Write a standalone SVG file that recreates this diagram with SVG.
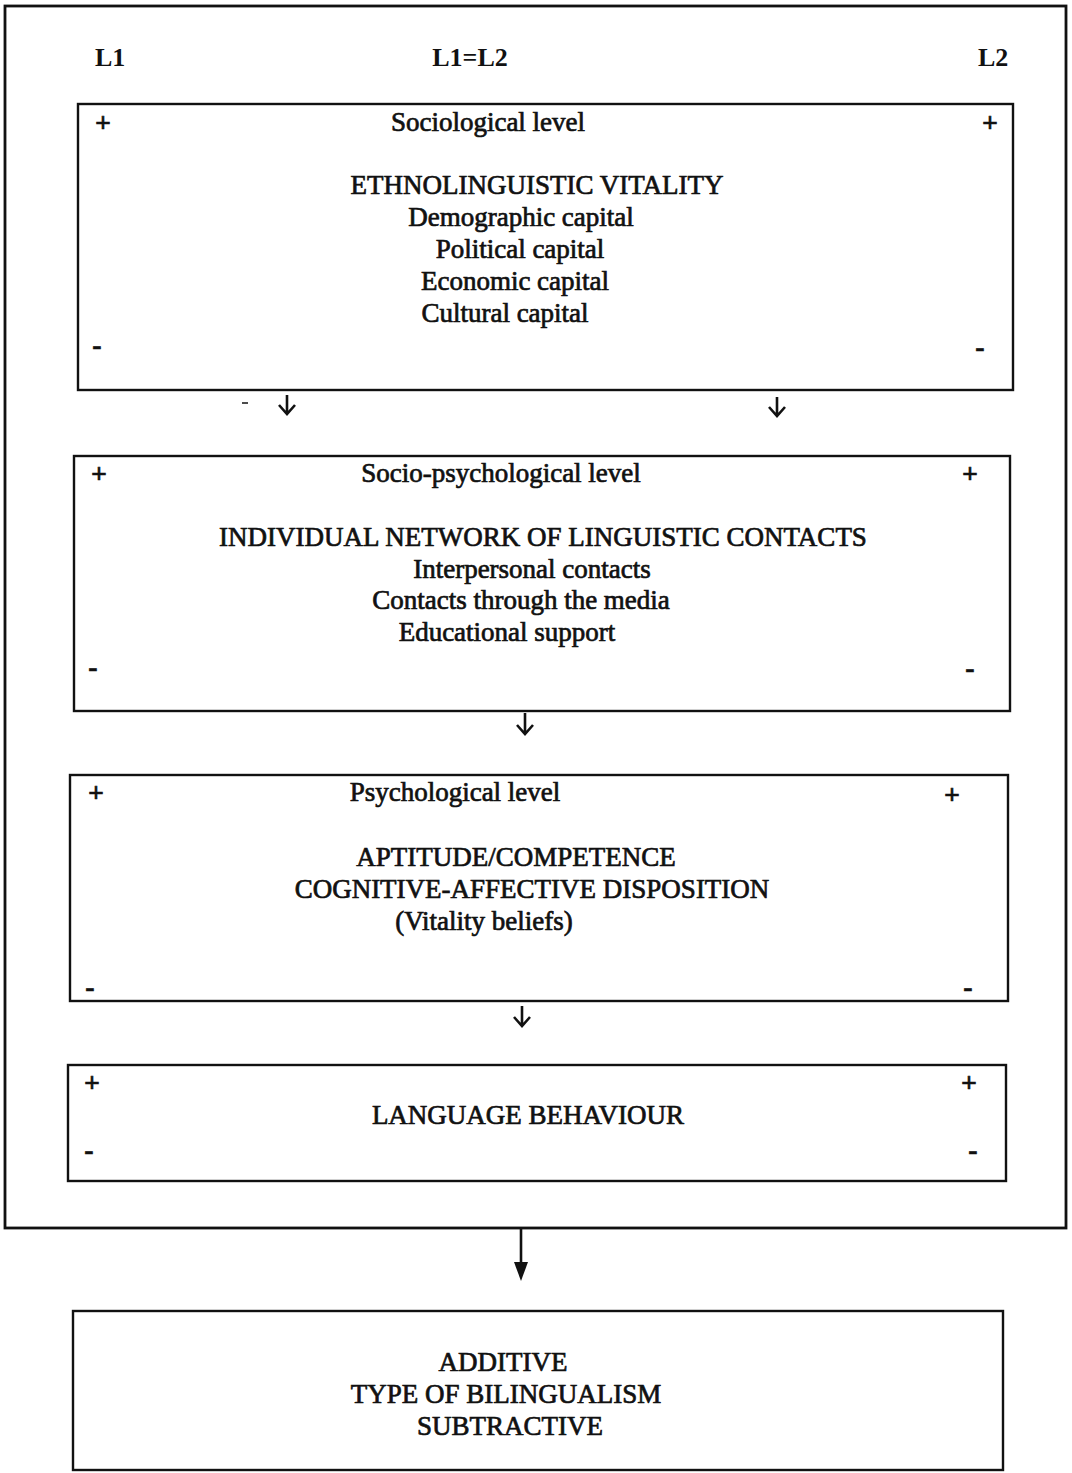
<svg xmlns="http://www.w3.org/2000/svg" width="1072" height="1473" viewBox="0 0 1072 1473">
  <style>
    .frame { fill: none; stroke: #111; stroke-width: 2.8; }
    .box { fill: none; stroke: #111; stroke-width: 2.4; }
    text { font-family: "Liberation Serif", "Times New Roman", serif; fill: #111; }
    .t { font-size: 27px; text-anchor: middle; stroke: #111; stroke-width: 0.7; }
    .hdr { font-size: 26px; font-weight: bold; }
    .sign { font-size: 28px; font-weight: bold; text-anchor: middle; stroke: #111; stroke-width: 0.6; }
    .conn { fill: none; stroke: #111; stroke-width: 2.6; }
  </style>

  <!-- enclosing frame -->
  <rect class="frame" x="5" y="6" width="1061" height="1222"/>

  <!-- axis labels -->
  <g id="axis">
    <text class="hdr" x="95" y="66">L1</text>
    <text class="hdr" x="470" y="66" text-anchor="middle">L1=L2</text>
    <text class="hdr" x="978" y="66">L2</text>
  </g>

  <!-- sociological level -->
  <g id="sociological">
    <rect class="box" x="78" y="104" width="935" height="286"/>
    <text class="sign" x="103" y="132">+</text>
    <text class="sign" x="990" y="132">+</text>
    <text class="sign" x="97" y="354">-</text>
    <text class="sign" x="980" y="356">-</text>
    <text class="t" x="488" y="131">Sociological level</text>
    <text class="t" x="537" y="194">ETHNOLINGUISTIC VITALITY</text>
    <text class="t" x="521" y="226">Demographic capital</text>
    <text class="t" x="520" y="258">Political capital</text>
    <text class="t" x="515" y="290">Economic capital</text>
    <text class="t" x="505" y="322">Cultural capital</text>
  </g>

  <!-- socio-psychological level -->
  <g id="socio-psychological">
    <rect class="box" x="74" y="456" width="936" height="255"/>
    <text class="sign" x="99" y="483">+</text>
    <text class="sign" x="970" y="483">+</text>
    <text class="sign" x="93" y="676">-</text>
    <text class="sign" x="970" y="677">-</text>
    <text class="t" x="501" y="482">Socio-psychological level</text>
    <text class="t" x="543" y="546">INDIVIDUAL NETWORK OF LINGUISTIC CONTACTS</text>
    <text class="t" x="532" y="578">Interpersonal contacts</text>
    <text class="t" x="521" y="609">Contacts through the media</text>
    <text class="t" x="507" y="641">Educational support</text>
  </g>

  <!-- psychological level -->
  <g id="psychological">
    <rect class="box" x="70" y="775" width="938" height="226"/>
    <text class="sign" x="96" y="802">+</text>
    <text class="sign" x="952" y="804">+</text>
    <text class="sign" x="90" y="996">-</text>
    <text class="sign" x="968" y="996">-</text>
    <text class="t" x="455" y="801">Psychological level</text>
    <text class="t" x="516" y="866">APTITUDE/COMPETENCE</text>
    <text class="t" x="532" y="898">COGNITIVE-AFFECTIVE DISPOSITION</text>
    <text class="t" x="484" y="930">(Vitality beliefs)</text>
  </g>

  <!-- language behaviour -->
  <g id="behaviour">
    <rect class="box" x="68" y="1065" width="938" height="116"/>
    <text class="sign" x="92" y="1092">+</text>
    <text class="sign" x="969" y="1092">+</text>
    <text class="sign" x="89" y="1159">-</text>
    <text class="sign" x="973" y="1159">-</text>
    <text class="t" x="528" y="1124">LANGUAGE BEHAVIOUR</text>
  </g>

  <!-- type of bilingualism -->
  <g id="bilingualism">
    <rect class="box" x="73" y="1311" width="930" height="159"/>
    <text class="t" x="503" y="1371">ADDITIVE</text>
    <text class="t" x="506" y="1403">TYPE OF BILINGUALISM</text>
    <text class="t" x="510" y="1435">SUBTRACTIVE</text>
  </g>

  <!-- connectors -->
  <g id="connectors">
    <path class="conn" d="M287 395 V414 M279 405 L287 414 L295 405"/>
    <path class="conn" d="M777 397 V416 M769 407 L777 416 L785 407"/>
    <path class="conn" d="M525 713 V734 M517 725 L525 734 L533 725"/>
    <path class="conn" d="M522 1006 V1026 M514 1017 L522 1026 L530 1017"/>
    <line class="conn" x1="521" y1="1229" x2="521" y2="1264"/>
    <path d="M514 1262 L528 1262 L521 1281 Z" fill="#111"/>
    <line x1="242" y1="403" x2="248" y2="403" stroke="#111" stroke-width="1.5"/>
  </g>
</svg>
